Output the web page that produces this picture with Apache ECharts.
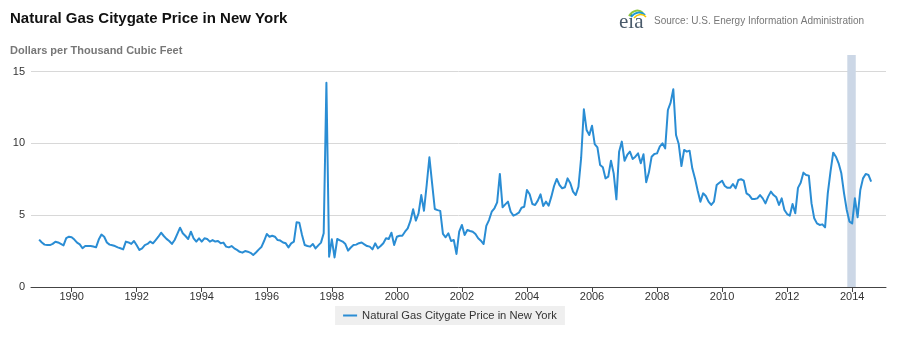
<!DOCTYPE html>
<html>
<head>
<meta charset="utf-8">
<script src="https://cdn.jsdelivr.net/npm/echarts@6/dist/echarts.min.js"></script>
<style>
  html, body { margin: 0; padding: 0; background: #fff; }
  #chart { width: 900px; height: 337px; }
</style>
</head>
<body>
<div id="chart"></div>
<script>
// Monthly citygate price, New York, dollars per thousand cubic feet (Jan 1989 onward)
const startYear = 1989;
const prices = [
  /* 1989 */ 3.3, 3.1, 2.95, 2.92, 2.92, 3.0, 3.15, 3.1, 3.0, 2.9, 3.4, 3.5,
  /* 1990 */ 3.46, 3.3, 3.09, 2.97, 2.7, 2.85, 2.85, 2.85, 2.82, 2.76, 3.3, 3.65,
  /* 1991 */ 3.5, 3.1, 2.95, 2.9, 2.85, 2.76, 2.7, 2.62, 3.16, 3.1, 3.0, 3.2,
  /* 1992 */ 2.9, 2.58, 2.69, 2.92, 3.0, 3.16, 3.04, 3.27, 3.5, 3.78, 3.55, 3.35,
  /* 1993 */ 3.2, 3.0, 3.27, 3.7, 4.13, 3.74, 3.55, 3.34, 3.85, 3.39, 3.16, 3.39,
  /* 1994 */ 3.16, 3.39, 3.34, 3.16, 3.27, 3.16, 3.2, 3.04, 3.09, 2.81, 2.76, 2.85,
  /* 1995 */ 2.69, 2.58, 2.45, 2.39, 2.5, 2.46, 2.38, 2.23, 2.4, 2.6, 2.78, 3.2,
  /* 1996 */ 3.69, 3.5, 3.57, 3.5, 3.27, 3.23, 3.1, 3.04, 2.76, 3.04, 3.16, 4.5,
  /* 1997 */ 4.48, 3.62, 2.92, 2.85, 2.81, 2.99, 2.69, 2.9, 3.09, 3.74, 14.22, 2.11,
  /* 1998 */ 3.32, 2.06, 3.34, 3.25, 3.16, 2.99, 2.53, 2.75, 2.92, 2.95, 3.05, 3.1,
  /* 1999 */ 2.97, 2.85, 2.81, 2.62, 3.04, 2.69, 2.85, 3.04, 3.39, 3.34, 3.78, 2.92,
  /* 2000 */ 3.5, 3.57, 3.57, 3.85, 4.08, 4.6, 5.41, 4.62, 5.13, 6.4, 5.31, 7.1,
  /* 2001 */ 9.03, 7.22, 5.43, 5.35, 5.3, 3.7, 3.46, 3.74, 3.2, 3.27, 2.3, 3.85,
  /* 2002 */ 4.32, 3.62, 3.97, 3.9, 3.85, 3.69, 3.39, 3.22, 2.99, 4.25, 4.66, 5.24,
  /* 2003 */ 5.48, 5.89, 7.87, 5.55, 5.75, 5.94, 5.24, 4.97, 5.06, 5.17, 5.52, 5.59,
  /* 2004 */ 6.75, 6.45, 5.78, 5.71, 6.01, 6.45, 5.64, 5.94, 5.66, 6.29, 7.03, 7.52,
  /* 2005 */ 7.1, 6.87, 6.94, 7.56, 7.22, 6.64, 6.4, 6.98, 9.0, 12.37, 10.93, 10.58,
  /* 2006 */ 11.23, 9.95, 9.72, 8.49, 8.33, 7.56, 7.68, 8.79, 7.91, 6.1, 9.42, 10.12,
  /* 2007 */ 8.79, 9.19, 9.42, 8.91, 9.07, 9.3, 8.61, 9.24, 7.29, 7.98, 9.07, 9.26,
  /* 2008 */ 9.3, 9.77, 10.0, 9.65, 12.32, 12.83, 13.76, 10.58, 9.95, 8.42, 9.54, 9.42,
  /* 2009 */ 9.49, 8.26, 7.56, 6.7, 5.94, 6.52, 6.33, 5.94, 5.71, 5.94, 7.1, 7.25,
  /* 2010 */ 7.4, 7.03, 6.9, 6.9, 7.17, 6.87, 7.45, 7.5, 7.4, 6.52, 6.4, 6.13,
  /* 2011 */ 6.13, 6.17, 6.4, 6.17, 5.82, 6.29, 6.64, 6.4, 6.24, 5.71, 6.17, 5.36,
  /* 2012 */ 5.08, 4.97, 5.78, 5.13, 6.9, 7.26, 7.96, 7.8, 7.75, 5.82, 4.78, 4.43,
  /* 2013 */ 4.32, 4.36, 4.15, 6.52, 8.03, 9.35, 9.07, 8.61, 7.91, 6.52, 5.36, 4.55,
  /* 2014 */ 4.43, 6.17, 4.85, 6.75, 7.56, 7.87, 7.8, 7.33
];
const tickYears = [1990, 1992, 1994, 1996, 1998, 2000, 2002, 2004, 2006, 2008, 2010, 2012, 2014];
const priceTicks = [0, 5, 10, 15];
const highlightRange = [2013.85, 2014.11];   // shaded period, decimal years
const seriesName = 'Natural Gas Citygate Price in New York';

const lineColor = '#2a8dd4';
const font = 'Arial, "Liberation Sans", Helvetica, sans-serif';

// [decimal year, price] pairs for the line
const points = prices.map((v, i) => [startYear + i / 12, v]);

const chart = echarts.init(document.getElementById('chart'), null, { renderer: 'canvas' });

const option = {
  animation: false,
  textStyle: { fontFamily: font },
  title: {
    text: 'Natural Gas Citygate Price in New York',
    left: 5, top: 6,
    textStyle: { fontSize: 15, fontWeight: 'bold', color: '#111', fontFamily: font }
  },
  grid: { left: 31, right: 14, top: 71.5, bottom: 50, containLabel: false },
  legend: {
    data: [seriesName],
    left: 'center', top: 306,
    backgroundColor: '#efefef',
    padding: [4, 8],
    icon: 'rect', itemWidth: 14, itemHeight: 2, itemGap: 6,
    textStyle: { fontSize: 11.2, color: '#333', fontFamily: font }
  },
  xAxis: {
    type: 'value',
    min: 1988.75, max: 2015.04,
    axisLine: { show: true, lineStyle: { color: '#444', width: 1 } },
    axisTick: { show: true, length: 5, lineStyle: { color: '#444' }, customValues: tickYears },
    axisLabel: { color: '#333', fontSize: 11, margin: 4, customValues: tickYears,
                 formatter: v => String(Math.round(v)) },
    splitLine: { show: false }
  },
  yAxis: {
    type: 'value',
    min: priceTicks[0], max: priceTicks[priceTicks.length - 1], interval: 5,
    axisLine: { show: false },
    axisTick: { show: false },
    axisLabel: { color: '#333', fontSize: 11, margin: 6 },
    splitLine: { show: true, lineStyle: { color: '#d8d8d8', width: 1 } }
  },
  series: [{
    name: seriesName,
    type: 'line',
    data: points,
    showSymbol: false,
    symbol: 'none',
    z: 3,
    lineStyle: { color: lineColor, width: 2, join: 'round' },
    itemStyle: { color: lineColor }
  }]
};

chart.setOption(option);

// Shaded period band (extends slightly above the plot) and the header artwork
const bx0 = chart.convertToPixel({ xAxisIndex: 0 }, highlightRange[0]);
const bx1 = chart.convertToPixel({ xAxisIndex: 0 }, highlightRange[1]);
const yBase = chart.convertToPixel({ yAxisIndex: 0 }, 0);

chart.setOption({
  graphic: [
    {
      type: 'rect', z: 1, silent: true,
      shape: { x: bx0, y: 55, width: bx1 - bx0, height: yBase - 55 },
      style: { fill: '#ccd7e6' }
    },
    {
      type: 'text', left: 10, top: 45, silent: true,
      style: { text: 'Dollars per Thousand Cubic Feet', fill: '#777',
               font: 'bold 11px ' + font }
    },
    {
      type: 'text', left: 654, top: 16, silent: true,
      style: { text: 'Source: U.S. Energy Information Administration', fill: '#777',
               font: '10px ' + font }
    },
    // eia mark
    {
      type: 'text', left: 619, top: 12, silent: true,
      style: { text: 'eia', fill: '#4b5b6b', font: '21px "Liberation Serif", "DejaVu Serif", serif' }
    },
    {
      type: 'bezierCurve', silent: true,
      shape: { x1: 629, y1: 16, x2: 643, y2: 13, cpx1: 633, cpy1: 10, cpx2: 639, cpy2: 9 },
      style: { stroke: '#8dc63f', lineWidth: 2, fill: null }
    },
    {
      type: 'bezierCurve', silent: true,
      shape: { x1: 631, y1: 17, x2: 645, y2: 15, cpx1: 635, cpy1: 12, cpx2: 641, cpy2: 11 },
      style: { stroke: '#1a9ad6', lineWidth: 2, fill: null }
    },
    {
      type: 'bezierCurve', silent: true,
      shape: { x1: 634, y1: 18, x2: 646, y2: 17, cpx1: 637, cpy1: 14, cpx2: 643, cpy2: 13 },
      style: { stroke: '#f6c400', lineWidth: 1.5, fill: null }
    }
  ]
});
</script>
</body>
</html>
